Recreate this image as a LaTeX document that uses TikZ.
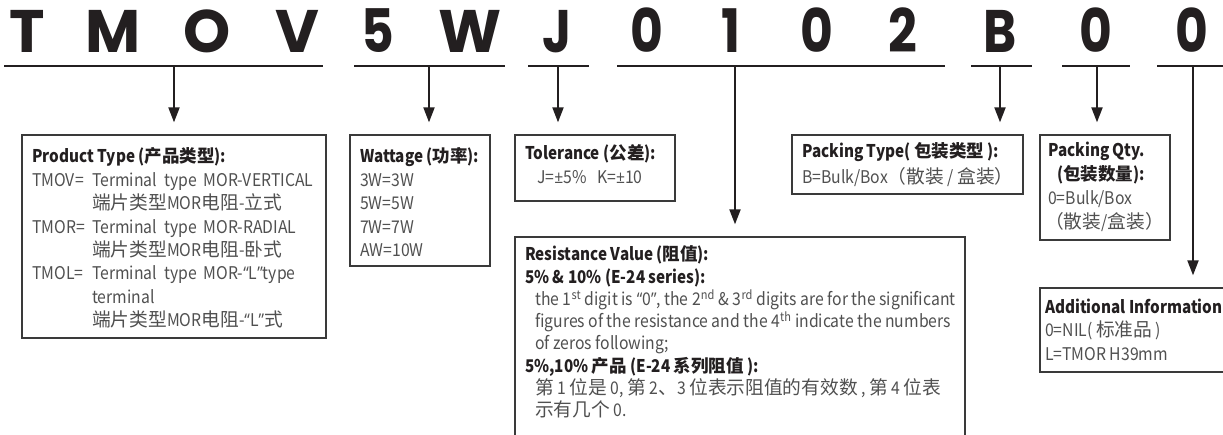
\documentclass[tikz,border=0pt]{standalone}
\usepackage{fontspec}
\usetikzlibrary{arrows.meta}
\setmainfont{Noto Sans CJK SC}[FakeStretch=0.9,BoldFeatures={FakeStretch=0.87}]
\newfontfamily\cjk{Noto Sans CJK SC}[Scale=1.07]
\newfontfamily\cjkb{Noto Sans CJK SC}
\newfontfamily\sym{Open Sans}[FakeStretch=0.9]
\newfontfamily\bigfont{Poppins}
\newfontfamily\bignarrow{Poppins}[FakeStretch=0.84]
\newcommand\zh[1]{{\cjk #1}}
\newcommand\zhb[1]{{\cjkb #1}}
\newcommand\oq{{\sym “}}
\newcommand\cq{{\sym ”}}
\newcommand\pmc{{\sym ±}}
\definecolor{ink}{HTML}{231F20}
\definecolor{txt}{HTML}{505050}
\definecolor{boxc}{HTML}{3A3A3A}
\newcommand\bodysize{\fontsize{17.5}{21}\selectfont}
\begin{document}
\begin{tikzpicture}[x=1pt,y=-1pt,
  letter/.style={anchor=base,inner sep=0pt,text=ink,font=\bigfont\bfseries\fontsize{60}{60}\selectfont},
  nletter/.style={letter,font=\bignarrow\bfseries\fontsize{60}{60}\selectfont},
  uline/.style={draw=ink,line width=2pt},
  arr/.style={draw=ink,line width=2pt,-{Triangle[length=15pt,width=11pt]},shorten >=12pt},
  box/.style={draw=boxc,line width=1.3pt,inner sep=0pt,fill=none},
  hdr/.style={anchor=base west,inner sep=0pt,text=ink,font=\bodysize\bfseries},
  body/.style={anchor=base west,inner sep=0pt,text=txt,font=\bodysize}]
\useasboundingbox (0,0) rectangle (1223,435);
\clip (0,0) rectangle (1223,435);
\fill[white] (0,0) rectangle (1223,435);
% code letters
\node[letter] (c1) at (27,53) {T};
\node[letter] (c2) at (113,53) {M};
\node[letter] (c3) at (207,53) {O};
\node[letter] (c4) at (297,53) {V};
\node[nletter] (c5) at (378,53) {5};
\node[letter] (c6) at (470,53) {W};
\node[nletter] (c7) at (557,53) {J};
\node[nletter] (c8) at (647,53) {0};
\node[nletter] (c9) at (731,53) {1};
\node[nletter] (c10) at (817,53) {0};
\node[nletter] (c11) at (903,53) {2};
\node[nletter] (c12) at (1000,53) {B};
\node[nletter] (c13) at (1096,53) {0};
\node[nletter] (c14) at (1192,53) {0};
% underlines
\coordinate (u1a) at (4,66);    \coordinate (u1b) at (323,66);
\coordinate (u2a) at (354,66);  \coordinate (u2b) at (505,66);
\coordinate (u3a) at (528,66);  \coordinate (u3b) at (589,66);
\coordinate (u4a) at (617,66);  \coordinate (u4b) at (945,66);
\coordinate (u5a) at (971,66);  \coordinate (u5b) at (1032,66);
\coordinate (u6a) at (1062,66); \coordinate (u6b) at (1130,66);
\coordinate (u7a) at (1157,66); \coordinate (u7b) at (1230,66);
\foreach \i in {1,...,7} {\draw[uline] (u\i a) -- (u\i b);}
% arrow start points
\coordinate (a1) at (174,66);
\coordinate (a2) at (429,66);
\coordinate (a3) at (558,66);
\coordinate (a4) at (735,66);
\coordinate (a5) at (1000,66);
\coordinate (a6) at (1097,66);
\coordinate (a7) at (1193,66);
% boxes
\node[box,minimum width=304pt,minimum height=203pt] (prod) at (174,236.5) {};
\node[box,minimum width=140pt,minimum height=131pt] (watt) at (420,200.5) {};
\node[box,minimum width=160pt,minimum height=66pt] (tol) at (595,168) {};
\node[box,minimum width=450pt,minimum height=213pt] (res) at (740,343.5) {};
\node[box,minimum width=231pt,minimum height=59pt] (pt) at (907.5,164.5) {};
\node[box,minimum width=130pt,minimum height=105pt] (pq) at (1105,187.5) {};
\node[box,minimum width=200pt,minimum height=84pt] (ai) at (1140,330) {};
% arrows
\draw[arr] (a1) -- (prod.north -| a1);
\draw[arr] (a2) -- (watt.north -| a2);
\draw[arr] (a3) -- (tol.north -| a3);
\draw[arr] (a4) -- (res.north -| a4);
\draw[arr] (a5) -- (pt.north -| a5);
\draw[arr] (a6) -- (pq.north -| a6);
\draw[arr] (a7) -- (ai.north -| a7);
% product type text
\node[hdr]  (p1) at (32,163)   {Product Type (\zhb{产品类型}):};
\node[body] (p2) at (32,186.4) {TMOV=};
\node[body] (p2b) at (92,186.4) {Terminal\ \ type\ \ MOR-VERTICAL};
\node[body] (p3) at (92,209.8) {\zh{端片类型}MOR\zh{电阻}-\zh{立式}};
\node[body] (p4) at (32,233.2) {TMOR=};
\node[body] (p4b) at (92,233.2) {Terminal\ \ type\ \ MOR-RADIAL};
\node[body] (p5) at (92,256.6) {\zh{端片类型}MOR\zh{电阻}-\zh{卧式}};
\node[body] (p6) at (32,280)   {TMOL=};
\node[body] (p6b) at (92,280)  {Terminal\ \ type\ \ MOR-\oq L\cq type};
\node[body] (p7) at (92,303.4) {terminal};
\node[body] (p8) at (92,326.8) {\zh{端片类型}MOR\zh{电阻}-\oq L\cq\zh{式}};
% wattage text
\node[hdr]  (w1) at (360,163)   {Wattage (\zhb{功率}):};
\node[body] (w2) at (360,186.4) {3W=3W};
\node[body] (w3) at (360,209.8) {5W=5W};
\node[body] (w4) at (360,233.2) {7W=7W};
\node[body] (w5) at (360,256.6) {AW=10W};
% tolerance text
\node[hdr]  (t1) at (525,160) {Tolerance (\zhb{公差}):};
\node[body] (t2) at (537,184) {J=\pmc 5\%\ \ \ K=\pmc 10};
% resistance text
\node[hdr]  (r1) at (525,261) {Resistance Value (\zhb{阻值}):};
\node[hdr]  (r2) at (525,283.2) {5\% \& 10\% (E-24 series):};
\node[body] (r3) at (535,305.4) {the 1\textsuperscript{st} digit is \oq 0\cq, the 2\textsuperscript{nd} \& 3\textsuperscript{rd} digits are for the significant};
\node[body] (r4) at (535,327.6) {figures of the resistance and the 4\textsuperscript{th} indicate the numbers};
\node[body] (r5) at (535,349.8) {of zeros following;};
\node[hdr]  (r6) at (525,372) {5\%,10\% \zhb{产品} (E-24 \zhb{系列阻值} ):};
\node[body] (r7) at (535,394.2) {\zh{第} 1 \zh{位是} 0, \zh{第} 2\zh{、}3 \zh{位表示阻值的有效数} , \zh{第} 4 \zh{位表}};
\node[body] (r8) at (535,416.4) {\zh{示有几个} 0.};
% packing type text
\node[hdr]  (k1) at (802,158) {Packing Type( \zhb{包装类型} ):};
\node[body] (k2) at (802,184) {B=Bulk/Box\zh{（散装} / \zh{盒装）}};
% packing qty text
\node[hdr]  (q1) at (1048,157) {Packing Qty.};
\node[hdr]  (q2) at (1057,181) {(\zhb{包装数量}):};
\node[body] (q3) at (1048,205) {0=Bulk/Box};
\node[body] (q4) at (1045,229) {\zh{（散装}/\zh{盒装）}};
% additional info text
\node[hdr]  (i1) at (1045,314) {Additional Information};
\node[body] (i2) at (1045,337) {0=NIL( \zh{标准品} )};
\node[body] (i3) at (1045,360) {L=TMOR H39mm};
\end{tikzpicture}
\end{document}
